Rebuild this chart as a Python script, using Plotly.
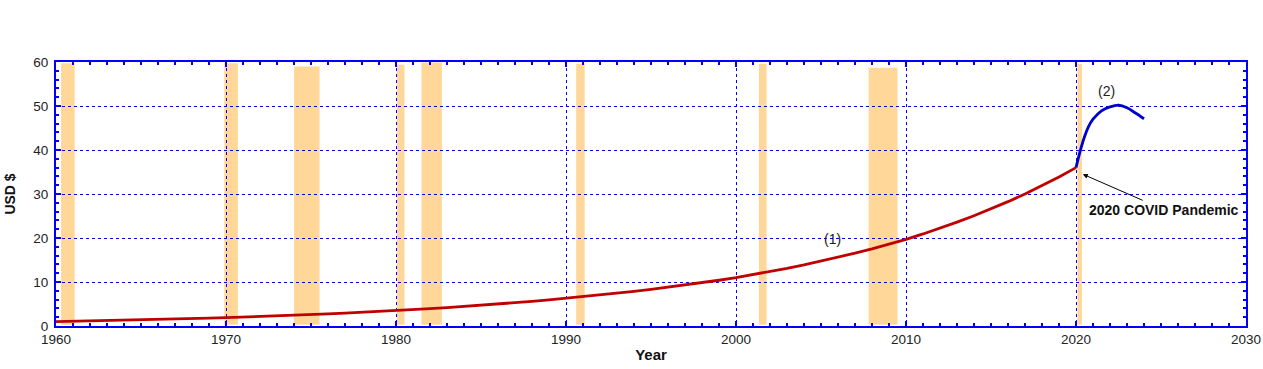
import plotly.graph_objects as go

# ---- data ----
years = list(range(1960, 2021))
price = [1.00, 1.07, 1.14, 1.21, 1.29, 1.38, 1.47, 1.56, 1.67, 1.78,
         1.90, 2.02, 2.15, 2.28, 2.43, 2.58, 2.74, 2.92, 3.10, 3.30,
         3.50, 3.71, 3.94, 4.18, 4.43, 4.70, 4.98, 5.28, 5.60, 5.94,
         6.30, 6.66, 7.04, 7.45, 7.87, 8.32, 8.80, 9.31, 9.84, 10.40,
         11.00, 11.66, 12.36, 13.10, 13.89, 14.72, 15.60, 16.54, 17.53, 18.58,
         19.70, 20.92, 22.22, 23.60, 25.06, 26.61, 28.26, 30.02, 31.88, 33.86,
         36.00]

covid_years = [2020.0, 2020.25, 2020.5, 2020.75, 2021.0, 2021.5, 2022.0, 2022.5, 2023.0, 2023.5, 2024.0]
covid_price = [36.0, 39.8, 43.0, 45.4, 47.0, 48.9, 49.8, 50.2, 49.6, 48.4, 47.1]

rec_start = [1960.3, 1969.9, 1974.0, 1980.05, 1981.5, 1990.6, 2001.35, 2007.8, 2020.08]
rec_end   = [1961.1, 1970.7, 1975.5, 1980.5, 1982.7, 1991.1, 2001.8, 2009.5, 2020.35]
rec_top   = [59.7, 59.7, 59.0, 59.4, 59.9, 59.6, 59.6, 58.7, 59.6]

fig = go.Figure()

for s, e, t in zip(rec_start, rec_end, rec_top):
    fig.add_shape(type="rect", xref="x", yref="y", x0=s, x1=e, y0=0.3, y1=t,
                  fillcolor="#FFD899", line=dict(width=0), layer="below")

fig.add_trace(go.Scatter(x=years, y=price, mode="lines",
                         line=dict(color="#C00000", width=2.8), showlegend=False))
fig.add_trace(go.Scatter(x=covid_years, y=covid_price, mode="lines",
                         line=dict(color="#0000CC", width=2.8, shape="spline"), showlegend=False))

fig.add_annotation(x=2005.65, y=19.8, text="(1)", showarrow=False,
                   font=dict(size=14, color="#222222"))
fig.add_annotation(x=2021.8, y=53.3, text="(2)", showarrow=False,
                   font=dict(size=14, color="#222222"))
fig.add_annotation(x=2020.4, y=34.5, ax=2025.2, ay=26.4, axref="x", ayref="y",
                   text="<b>2020 COVID Pandemic</b>", showarrow=True,
                   arrowhead=2, arrowsize=1, arrowwidth=1, arrowcolor="#000000",
                   font=dict(size=14, color="#111111"))

axis_common = dict(
    showline=True, linecolor="#0000FF", linewidth=2, mirror="ticks",
    ticks="inside", ticklen=5, tickwidth=2, tickcolor="#0000FF",
    showgrid=True, gridcolor="#0000FF", gridwidth=1, griddash="dot",
    zeroline=False, automargin=False, tickfont=dict(size=13.5, color="#222222"),
)

fig.update_xaxes(range=[1960, 2030], dtick=10, tick0=1960,
                 minor=dict(dtick=1, ticks="inside", ticklen=3, tickcolor="#0000FF", showgrid=False),
                 title=dict(text="<b>Year</b>", font=dict(size=15, color="#111111"), standoff=3),
                 **axis_common)
fig.update_yaxes(range=[0, 60], dtick=10, tick0=0, ticklabelstandoff=3,
                 minor=dict(dtick=2, ticks="inside", ticklen=3, tickcolor="#0000FF", showgrid=False),
                 title=dict(text="<b>USD $</b>", font=dict(size=14, color="#111111"), standoff=14),
                 **axis_common)

fig.update_layout(
    width=1263, height=369, autosize=False,
    margin=dict(l=56, r=17, t=62, b=43),
    plot_bgcolor="white", paper_bgcolor="white",
    font=dict(family="Liberation Sans, Arial, sans-serif"),
)

fig.write_html(
    "out.html",
    config={"responsive": False, "displayModeBar": False},
    post_script="document.body.style.margin='0';document.body.style.overflow='hidden';",
)
